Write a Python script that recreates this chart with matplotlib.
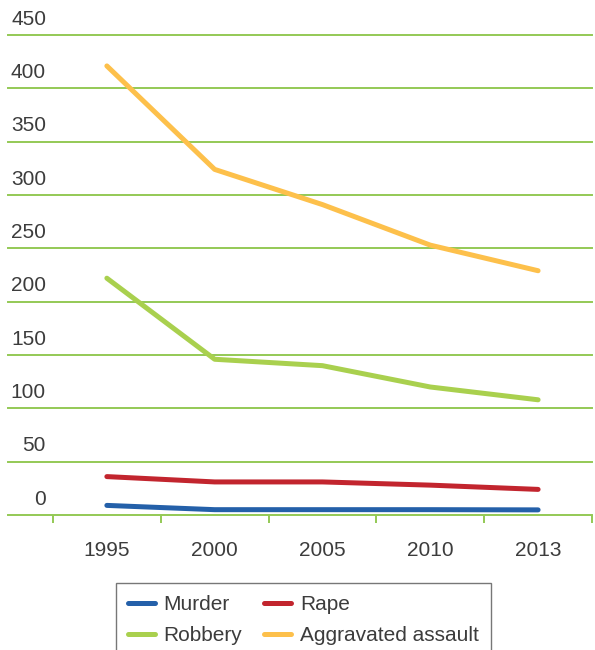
import matplotlib
matplotlib.use("Agg")
import matplotlib.pyplot as plt
from matplotlib.transforms import blended_transform_factory

plt.rcParams['font.family'] = ['Liberation Sans', 'DejaVu Sans']

years = ["1995", "2000", "2005", "2010", "2013"]
murder = [9.0, 5.0, 5.0, 5.0, 4.8]
rape = [36, 31, 31, 28, 24]
robbery = [222, 146, 140, 120, 108]
assault = [421, 324, 291, 253, 229]
y_ticks = [0, 50, 100, 150, 200, 250, 300, 350, 400, 450]

series = [("Murder", murder, "#2460A9"),
          ("Rape", rape, "#C2252E"),
          ("Robbery", robbery, "#A9D04E"),
          ("Aggravated assault", assault, "#FDC04B")]

txt_col = "#3C3C3C"
fs = 15

fig = plt.figure(figsize=(5.95, 6.5), dpi=100)
ax = fig.add_axes([8/595, 1 - 515/650, (592 - 8)/595, (515 - 35)/650])

x = list(range(len(years)))
lines = {}
for name, vals, col in series:
    ln, = ax.plot(x, vals, color=col, lw=3.6, solid_capstyle='round', label=name, zorder=3)
    lines[name] = ln

ax.set_xlim(-0.917, 4.5)
ax.set_ylim(0, 450)

grid_col = "#94C955"
for v in y_ticks:
    ax.axhline(v, color=grid_col, lw=1.4, zorder=1, clip_on=False)

for s in ax.spines.values():
    s.set_visible(False)

ax.set_yticks([])
ax.set_xticks(x)
ax.set_xticklabels(years, fontsize=fs, color=txt_col)
ax.tick_params(axis='x', which='major', length=0, pad=19)
ax.set_xticks([i - 0.5 for i in range(len(years) + 1)], minor=True)
ax.tick_params(axis='x', which='minor', length=6, width=1.4, color=grid_col)

tr = blended_transform_factory(fig.transFigure, ax.transData)
for v in y_ticks:
    ax.text(46/595, v + 6, str(v), transform=tr, ha='right', va='bottom',
            fontsize=fs, color=txt_col, clip_on=False)

order = ["Murder", "Robbery", "Rape", "Aggravated assault"]
leg = fig.legend([lines[n] for n in order], order,
                 loc='upper center', bbox_to_anchor=(303.5/595, 1 - 583/650),
                 ncol=2, fontsize=fs, frameon=True, fancybox=False,
                 handlelength=1.3, handletextpad=0.4, columnspacing=1.05,
                 labelspacing=0.55, borderpad=0.6, borderaxespad=0)
leg.get_frame().set_edgecolor("#555555")
leg.get_frame().set_linewidth(1.0)
for t in leg.get_texts():
    t.set_color(txt_col)

fig.savefig("out.png", dpi=100)
